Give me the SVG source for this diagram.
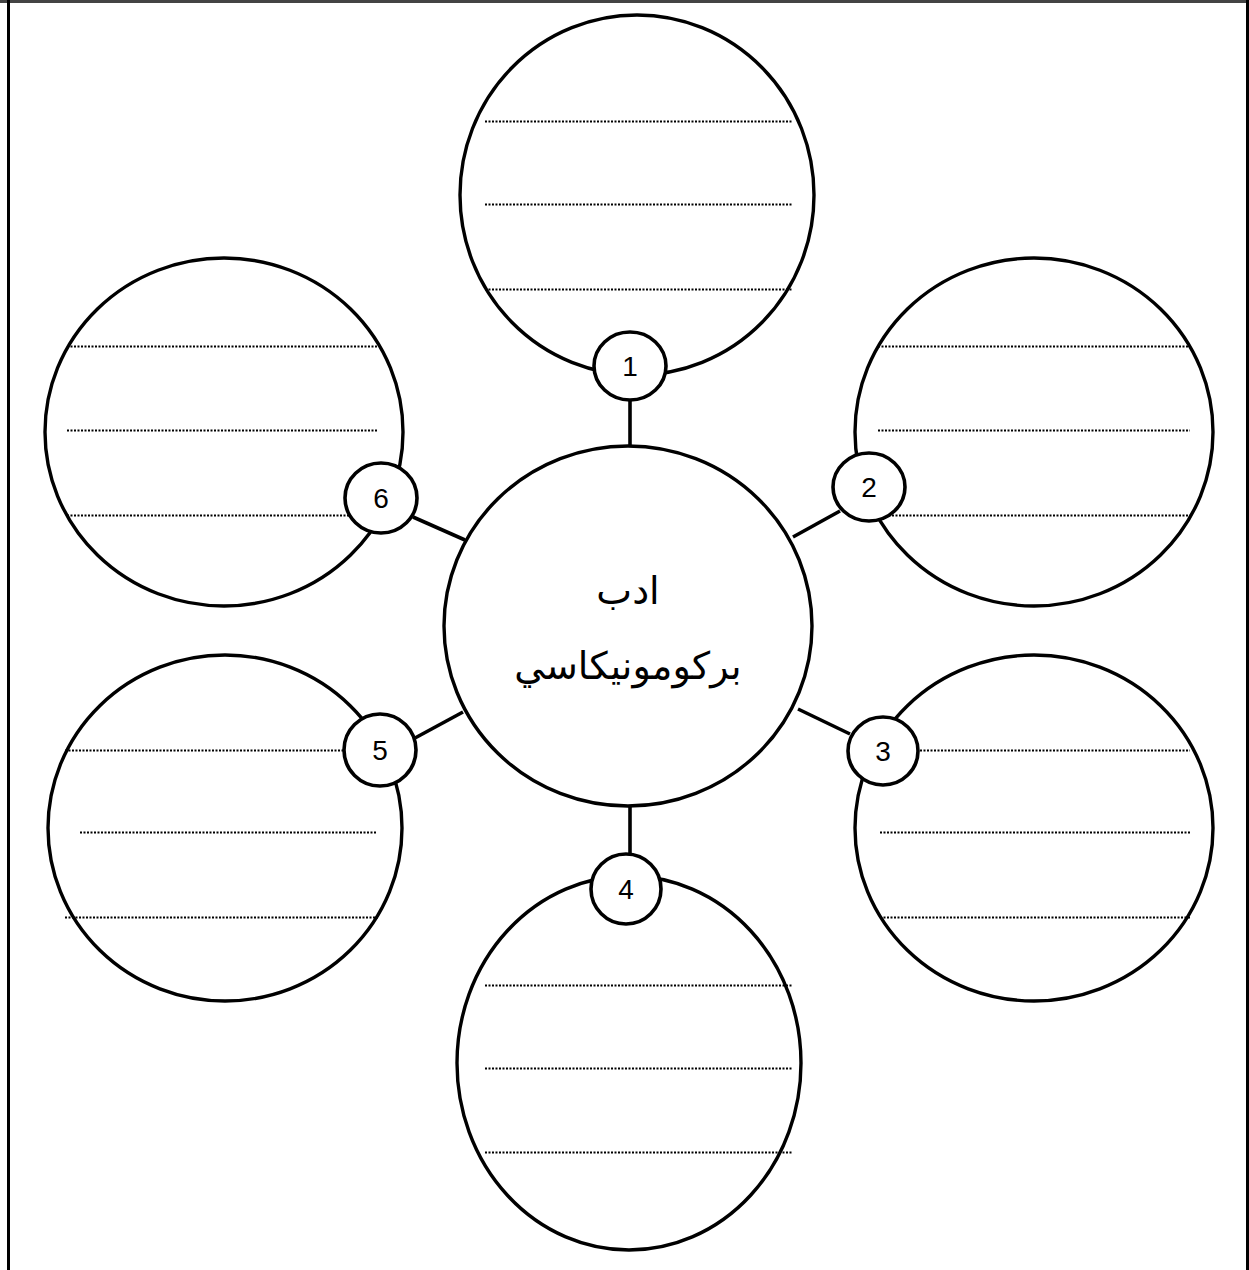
<svg xmlns="http://www.w3.org/2000/svg" width="1249" height="1270" viewBox="0 0 1249 1270">
<style>
.big{fill:#fff;stroke:#000;stroke-width:3.4}
.badge{fill:#fff;stroke:#000;stroke-width:3.6}
.dots{stroke:#000;stroke-width:2;stroke-dasharray:2 1.5;fill:none}
.conn{stroke:#000;stroke-width:3.6;fill:none}
.num{font-family:"Liberation Sans",Arial,sans-serif;font-size:28px;fill:#000;text-anchor:middle}
.ar{font-family:"DejaVu Sans","Noto Sans",sans-serif;font-size:38px;fill:#000;text-anchor:middle}
</style>
<rect width="1249" height="1270" fill="#fff"/>
<g id="frame">
<line x1="0" y1="1.5" x2="1249" y2="1.5" stroke="#444" stroke-width="3"/>
<line x1="8.5" y1="0" x2="8.5" y2="1270" stroke="#000" stroke-width="3"/>
<line x1="1247.5" y1="0" x2="1247.5" y2="1270" stroke="#000" stroke-width="3"/>
</g>
<g id="connectors">
<line class="conn" x1="630" y1="400" x2="630" y2="446"/>
<line class="conn" x1="793" y1="537" x2="840" y2="511"/>
<line class="conn" x1="798" y1="709" x2="850" y2="734"/>
<line class="conn" x1="630" y1="805" x2="630" y2="853"/>
<line class="conn" x1="415" y1="738" x2="463" y2="712"/>
<line class="conn" x1="413" y1="517" x2="465" y2="540"/>
</g>
<g id="node1">
<ellipse class="big" cx="637" cy="195" rx="177" ry="180"/>
<line class="dots" x1="485" y1="121.5" x2="793" y2="121.5"/>
<line class="dots" x1="485" y1="204.5" x2="793" y2="204.5"/>
<line class="dots" x1="485" y1="289.5" x2="793" y2="289.5"/>
</g>
<g id="node2">
<ellipse class="big" cx="1034" cy="432" rx="179" ry="174"/>
<line class="dots" x1="878" y1="346.5" x2="1190" y2="346.5"/>
<line class="dots" x1="878" y1="430.5" x2="1190" y2="430.5"/>
<line class="dots" x1="878" y1="515.5" x2="1190" y2="515.5"/>
</g>
<g id="node3">
<ellipse class="big" cx="1034" cy="828" rx="179" ry="173"/>
<line class="dots" x1="920" y1="750.5" x2="1190" y2="750.5"/>
<line class="dots" x1="880" y1="832.5" x2="1190" y2="832.5"/>
<line class="dots" x1="880" y1="917.5" x2="1190" y2="917.5"/>
</g>
<g id="node4">
<ellipse class="big" cx="629" cy="1063" rx="172" ry="187"/>
<line class="dots" x1="485" y1="985.5" x2="793" y2="985.5"/>
<line class="dots" x1="485" y1="1068.5" x2="793" y2="1068.5"/>
<line class="dots" x1="485" y1="1152.5" x2="793" y2="1152.5"/>
</g>
<g id="node5">
<ellipse class="big" cx="225" cy="828" rx="177" ry="173"/>
<line class="dots" x1="65" y1="750.5" x2="343" y2="750.5"/>
<line class="dots" x1="80" y1="832.5" x2="376" y2="832.5"/>
<line class="dots" x1="65" y1="917.5" x2="378" y2="917.5"/>
</g>
<g id="node6">
<ellipse class="big" cx="224" cy="432" rx="179" ry="174"/>
<line class="dots" x1="67" y1="346.5" x2="378" y2="346.5"/>
<line class="dots" x1="67" y1="430.5" x2="378" y2="430.5"/>
<line class="dots" x1="67" y1="515.5" x2="378" y2="515.5"/>
</g>
<g id="center">
<ellipse class="big" cx="628" cy="626" rx="184" ry="180"/>
<text class="ar" x="628" y="604" direction="rtl">ادب</text>
<text class="ar" x="628" y="679" direction="rtl">بركومونيكاسي</text>
</g>
<g id="badge1"><ellipse class="badge" cx="630" cy="366" rx="36" ry="34"/><text class="num" x="630" y="376">1</text></g>
<g id="badge2"><ellipse class="badge" cx="869" cy="487" rx="36" ry="34"/><text class="num" x="869" y="497">2</text></g>
<g id="badge3"><ellipse class="badge" cx="883" cy="751" rx="35" ry="34"/><text class="num" x="883" y="761">3</text></g>
<g id="badge4"><ellipse class="badge" cx="626" cy="889" rx="35" ry="35"/><text class="num" x="626" y="899">4</text></g>
<g id="badge5"><ellipse class="badge" cx="380" cy="750" rx="36" ry="36"/><text class="num" x="380" y="760">5</text></g>
<g id="badge6"><ellipse class="badge" cx="381" cy="498" rx="36" ry="35"/><text class="num" x="381" y="508">6</text></g>
</svg>
